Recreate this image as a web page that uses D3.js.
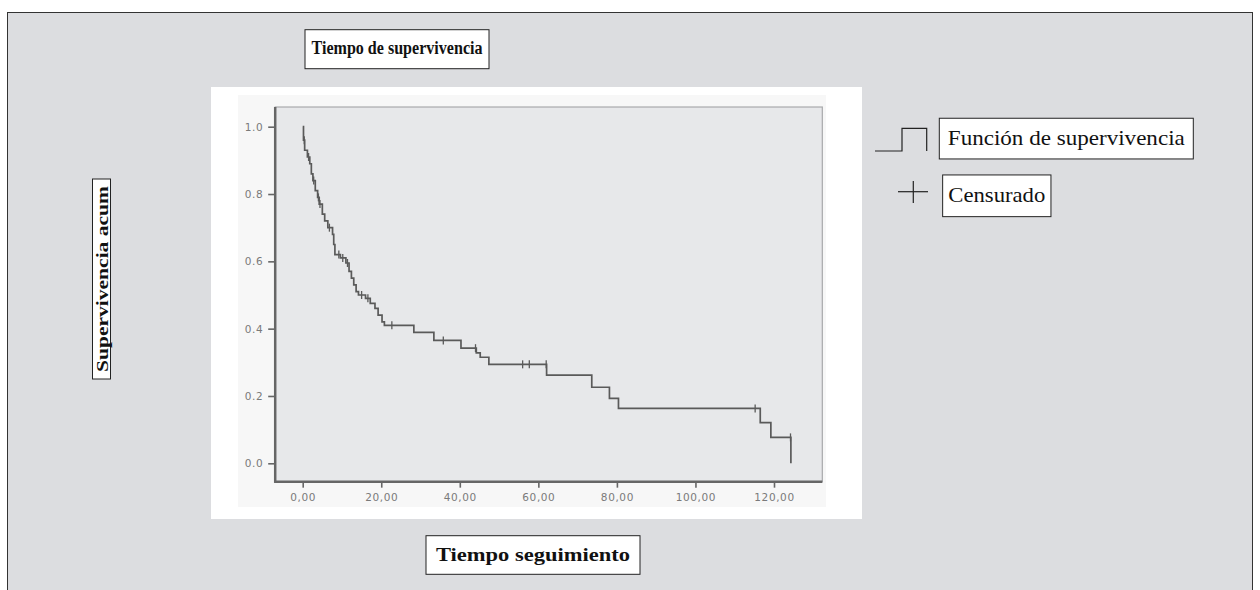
<!DOCTYPE html>
<html><head><meta charset="utf-8">
<script src="https://cdn.jsdelivr.net/npm/d3@7"></script>
<style>body{margin:0;background:#fff}svg{display:block}</style>
</head><body>
<svg id="c" width="1260" height="590"></svg>
<script>
// Kaplan-Meier step: event times and survival after each event
const eventTimes = [0.2,0.5,1.2,1.8,2.2,2.6,3.2,3.8,4.2,5.0,5.6,6.4,7.6,7.9,8.2,9.6,11.0,11.8,12.4,13.0,13.6,14.2,16.0,17.2,18.4,19.2,20.2,20.8,28.3,33.4,40.3,44.2,45.2,47.4,62.1,73.6,78.1,80.4,116.5,119.2,124.3];
const survival   = [0.96,0.93,0.91,0.89,0.86,0.84,0.81,0.79,0.77,0.74,0.72,0.70,0.68,0.65,0.62,0.61,0.595,0.57,0.55,0.53,0.51,0.50,0.49,0.475,0.46,0.44,0.42,0.41,0.389,0.365,0.342,0.328,0.315,0.294,0.262,0.226,0.193,0.163,0.121,0.077,0.0];
const censorTimes = [0.4,1.5,2.8,4.0,4.4,6.8,9.2,10.2,11.4,15.0,16.6,22.7,35.8,44.0,56.0,57.7,62.0,115.2,124.2];
const xTicks = [0,20,40,60,80,100,120];
const yTicks = [0,0.2,0.4,0.6,0.8,1.0];
const title = "Tiempo de supervivencia";
const xTitle = "Tiempo seguimiento";
const yTitle = "Supervivencia acum";
const legendItems = ["Función de supervivencia","Censurado"];

const svg = d3.select("#c");
svg.append("rect").attr("x",0).attr("y",0).attr("width",1260).attr("height",590).attr("fill","#fff");
svg.append("rect").attr("x",7.5).attr("y",12.5).attr("width",1245).attr("height",600)
  .attr("fill","#dcdde0").attr("stroke","#333").attr("stroke-width",1);
svg.append("rect").attr("x",211).attr("y",87).attr("width",651).attr("height",432).attr("fill","#fff");
svg.append("rect").attr("x",238).attr("y",95).attr("width",588).attr("height",412).attr("fill","#f7f7f7");

const x = d3.scaleLinear().domain([0,120]).range([302.7,774]);
const y = d3.scaleLinear().domain([0,1]).range([463.3,126.7]);
const fx0 = x(-7.0), fx1 = x(132.3), fy0 = y(1.0585), fy1 = y(-0.0546);

svg.append("rect").attr("x",fx0).attr("y",fy0).attr("width",fx1-fx0).attr("height",fy1-fy0)
  .attr("fill","#e7e8ea").attr("stroke","#a8a9ab").attr("stroke-width",1.2);

const gx = svg.append("g").attr("transform",`translate(0,${fy1})`)
  .call(d3.axisBottom(x).tickValues(xTicks).tickSize(6).tickPadding(6).tickFormat(d=>d3.format(".2f")(d).replace(".",",")));
const gy = svg.append("g").attr("transform",`translate(${fx0},0)`)
  .call(d3.axisLeft(y).tickValues(yTicks).tickSize(7).tickPadding(5).tickFormat(d3.format(".1f")));
[gx,gy].forEach(g=>{
  g.select(".domain").remove();
  g.selectAll("line").attr("stroke","#666").attr("stroke-width",1.6);
  g.selectAll("text").attr("fill","#7a7a7a").attr("font-family","DejaVu Sans, sans-serif").attr("font-size",10.5).attr("letter-spacing",0.6);
});
svg.append("line").attr("x1",fx0).attr("x2",fx0).attr("y1",fy0).attr("y2",fy1+1).attr("stroke","#666").attr("stroke-width",2.5);
svg.append("line").attr("x1",fx0-1).attr("x2",fx1).attr("y1",fy1).attr("y2",fy1).attr("stroke","#666").attr("stroke-width",2.5);

const pts = [[0,1]];
eventTimes.forEach((t,i)=>pts.push([t,survival[i]]));
const line = d3.line().x(d=>x(d[0])).y(d=>y(d[1])).curve(d3.curveStepAfter);
svg.append("path").attr("d",line(pts)).attr("fill","none").attr("stroke","#5a5a5a").attr("stroke-width",1.7);

function sAt(t){let s=1;eventTimes.forEach((e,i)=>{if(e<=t)s=survival[i];});return s;}
svg.append("g").selectAll("line").data(censorTimes).join("line")
  .attr("x1",d=>x(d)).attr("x2",d=>x(d))
  .attr("y1",d=>y(sAt(d))-4).attr("y2",d=>y(sAt(d))+4)
  .attr("stroke","#5a5a5a").attr("stroke-width",1.3);

function boxLabel(txt, cx, cy, w, h, opts){
  const g = svg.append("g").attr("transform",`translate(${cx},${cy}) rotate(${opts.rot||0})`);
  g.append("rect").attr("x",-w/2).attr("y",-h/2).attr("width",w).attr("height",h)
    .attr("fill","#fff").attr("stroke","#222").attr("stroke-width",1);
  g.append("text").attr("x",0).attr("y",opts.dy||0).attr("text-anchor","middle").attr("dominant-baseline","central")
    .attr("font-family","Liberation Serif, serif").attr("font-size",opts.fs).attr("font-weight",opts.fw||"normal")
    .attr("fill","#111").attr("textLength",opts.tl).attr("lengthAdjust","spacingAndGlyphs").text(txt);
}
boxLabel(title, 397, 49.2, 184, 39, {fs:18.5, fw:"bold", tl:171, dy:-1});
boxLabel(xTitle, 533, 555, 214, 38.6, {fs:19.5, fw:"bold", tl:194, dy:-1});
boxLabel(yTitle, 101.5, 279, 200, 18, {fs:16, fw:"bold", tl:186, rot:-90, dy:0.5});
boxLabel(legendItems[0], 1066.3, 138.6, 254, 40.7, {fs:22, tl:237, dy:-1});
boxLabel(legendItems[1], 996.8, 195.8, 108.3, 41.7, {fs:22, tl:97, dy:-1});

const lg = svg.append("g").attr("stroke","#222").attr("stroke-width",1.2).attr("fill","none");
lg.append("path").attr("d", d3.line()([[875,151],[902,151],[902,128.3],[926.7,128.3],[926.7,151]]));
lg.append("line").attr("x1",898).attr("x2",928).attr("y1",191.7).attr("y2",191.7);
lg.append("line").attr("x1",913.3).attr("x2",913.3).attr("y1",181).attr("y2",203);
</script>
</body></html>
